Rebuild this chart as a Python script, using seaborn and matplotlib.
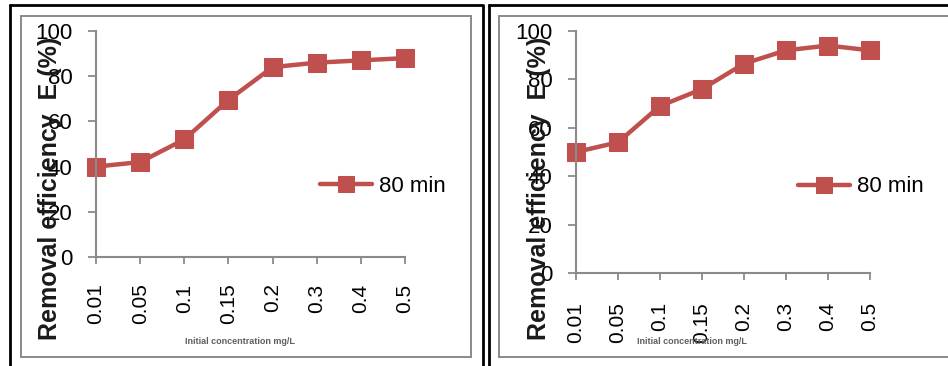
import matplotlib
matplotlib.use("Agg")
import matplotlib.pyplot as plt
from matplotlib.lines import Line2D
import seaborn as sns
import pandas as pd

# Initial concentration categories (mg/L)
categories = ["0.01", "0.05", "0.1", "0.15", "0.2", "0.3", "0.4", "0.5"]
# Removal efficiency (%) after 80 min, two experiments
left_values = [40, 42, 52, 69.5, 84, 86, 87, 88]
right_values = [50, 54, 69, 76, 86.5, 92, 94, 92]
yticks = [0, 20, 40, 60, 80, 100]
series_name = "80 min"
ylabel = "Removal efficiency  E (%)"
xlabel = "Initial concentration mg/L"

sns.set_theme(style="white")
plt.rcParams["font.family"] = ["Liberation Sans", "DejaVu Sans"]

W, H = 948, 366
fig = plt.figure(figsize=(W / 100, H / 100), dpi=100)

RED = "#C0504D"
GRAY = "#8a8a8a"


def fx(px):
    return px / W


def fy(py):
    return (H - py) / H


def hline(x0, x1, y, color, lw):
    fig.add_artist(Line2D([fx(x0), fx(x1)], [fy(y), fy(y)], transform=fig.transFigure,
                          color=color, lw=lw, solid_capstyle="butt"))


def vline(x, y0, y1, color, lw):
    fig.add_artist(Line2D([fx(x), fx(x)], [fy(y0), fy(y1)], transform=fig.transFigure,
                          color=color, lw=lw, solid_capstyle="butt"))


# Table cell borders
hline(9, 483, 5, "black", 2.0)
vline(10, 4, 366, "black", 2.0)
vline(482.5, 4, 366, "black", 2.0)
hline(488, 948, 5, "black", 2.0)
vline(488.5, 4, 366, "black", 2.0)

# Chart area frames
hline(21, 471, 15.5, GRAY, 1.4)
hline(21, 471, 357, GRAY, 1.4)
vline(21, 15, 357.5, GRAY, 1.4)
vline(471, 15, 357.5, GRAY, 1.4)
hline(499, 948, 15.5, GRAY, 1.4)
hline(499, 948, 357, GRAY, 1.4)
vline(499, 15, 357.5, GRAY, 1.4)


def panel(values, box, legend_xy, ylabel_x, xlabel_xy, xtick_pad):
    x0, y0, x1, y1 = box
    ax = fig.add_axes([fx(x0), fy(y1), fx(x1) - fx(x0), (y1 - y0) / H])
    df = pd.DataFrame({"pos": range(len(categories)), "eff": values})
    sns.lineplot(data=df, x="pos", y="eff", ax=ax, color=RED, lw=3.2,
                 marker="s", markersize=13, markeredgecolor=RED,
                 markerfacecolor=RED, label=series_name, clip_on=False)
    ax.set_xlim(0, len(categories) - 1)
    ax.set_ylim(0, 100)
    ax.set_yticks(yticks)
    ax.set_yticklabels([str(v) for v in yticks], fontsize=16)
    ax.set_xticks(range(len(categories)))
    ax.set_xticklabels(categories, rotation=90, fontsize=15, va="top")
    ax.set_xlabel("")
    ax.set_ylabel("")
    ax.patch.set_alpha(0)
    for s in ["top", "right"]:
        ax.spines[s].set_visible(False)
    for s in ["left", "bottom"]:
        ax.spines[s].set_color(GRAY)
        ax.spines[s].set_linewidth(1.5)
    ax.tick_params(axis="y", direction="out", length=6, width=1.3, color=GRAY,
                   pad=11, left=True, labelcolor="black")
    ax.tick_params(axis="x", direction="out", length=5, width=1.3, color=GRAY,
                   pad=xtick_pad, bottom=True, labelcolor="black")
    ax.grid(False)
    leg = ax.legend(loc="center left",
                    bbox_to_anchor=(fx(legend_xy[0]), fy(legend_xy[1])),
                    bbox_transform=fig.transFigure, frameon=False, fontsize=16,
                    handlelength=2.35, handletextpad=0.3, borderpad=0,
                    borderaxespad=0, markerscale=0.85)
    for t in leg.get_texts():
        t.set_color("black")
    fig.text(fx(ylabel_x), fy(188), ylabel, rotation=90, ha="center", va="center",
             fontsize=18, fontweight="bold", color="#1a1a1a")
    fig.text(fx(xlabel_xy[0]), fy(xlabel_xy[1]), xlabel, ha="center", va="center",
             fontsize=6.5, fontweight="bold", color="#606060")
    return ax


panel(left_values, (96, 31, 405, 257), (320, 186), 50, (240, 341), 14)
panel(right_values, (576, 31, 870, 273), (798, 187), 539, (692, 341), 16)

fig.savefig("out.png", dpi=100)
